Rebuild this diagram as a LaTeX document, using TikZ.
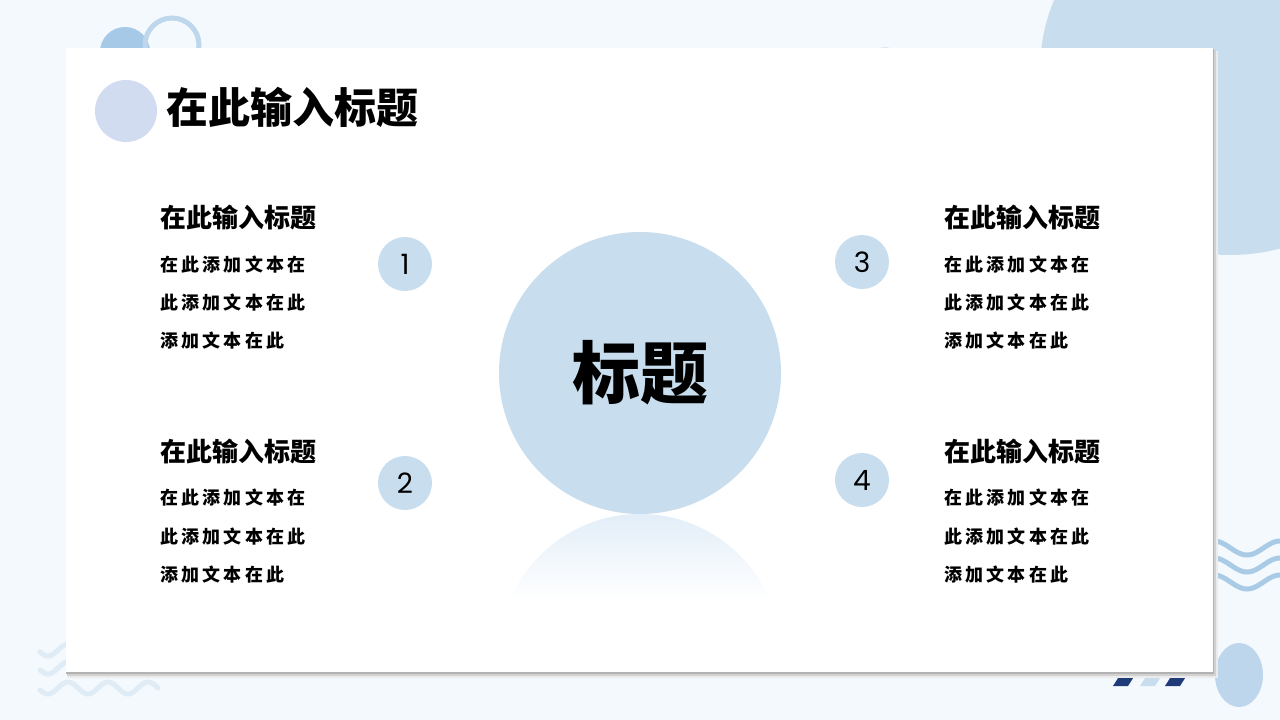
\documentclass[tikz,border=0pt]{standalone}
\usepackage{fontspec}
\newfontfamily\cjk{Noto Sans CJK SC}
\newfontfamily\cjkbody{Noto Sans CJK SC}[LetterSpace=18]
\newfontfamily\numfont{Poppins}
\usetikzlibrary{calc}
\definecolor{bg}{RGB}{244,249,254}
\definecolor{lb}{RGB}{200,222,238}
\definecolor{deco}{RGB}{165,201,230}
\definecolor{ring}{RGB}{190,215,236}
\definecolor{tcirc}{RGB}{210,220,240}
\definecolor{waveR}{RGB}{170,203,230}
\definecolor{waveL}{RGB}{224,236,245}
\definecolor{navy}{RGB}{31,60,120}
\definecolor{ell}{RGB}{190,214,236}
\definecolor{refl}{RGB}{226,238,248}
\tikzset{
  numcirc/.style={circle, fill=lb, minimum size=54pt, inner sep=0pt, font=\numfont\fontsize{28}{30}\selectfont},
  heading/.style={anchor=west, inner sep=0pt, font=\cjk\bfseries\fontsize{26}{28}\selectfont},
  bodytxt/.style={anchor=west, inner sep=0pt, font=\cjkbody\bfseries\fontsize{18}{20}\selectfont},
  wave/.style={line width=5pt, line cap=round}
}
\begin{document}
\begin{tikzpicture}[x=1pt,y=-1pt]
\useasboundingbox (0,0) rectangle (1280,720);
\fill[bg] (0,0) rectangle (1280,720);
% background decorations
\fill[lb] (1230,70) ellipse[x radius=190, y radius=185];
\fill[deco] (125,52) circle[radius=25];
\draw[ring, line width=5pt] (172,45) circle[radius=27];
\fill[lb!60] (885,62) circle[radius=15];
% stripes
\fill[navy] (1113,686) -- (1128,686) -- (1151,650) -- (1136,650) -- cycle;
\fill[lb] (1140,686) -- (1155,686) -- (1178,650) -- (1163,650) -- cycle;
\fill[navy] (1165,686) -- (1180,686) -- (1203,650) -- (1188,650) -- cycle;
\fill[ell] (1239,675) ellipse[x radius=24, y radius=32];
% right waves
\foreach \yy in {548,565,582}{
  \draw[wave, waveR] plot[domain=1200:1290, samples=60] (\x, {\yy + 7*cos((\x-1247)/66*360)});
}
% left waves
\foreach \yy in {650,668,688}{
  \draw[wave, waveL] plot[domain=40:158, samples=80] (\x, {\yy + 6*cos((\x-48)/40*360)});
}
% card shadow
\fill[black!8] (68,51) rectangle (1218,678);
\fill[black!18] (67,50) rectangle (1216,676);
\fill[black!30] (66,49) rectangle (1214,674);
\fill[white] (66,48) rectangle (1213,672);
% title
\fill[tcirc] (126,111) circle[radius=31];
\node[anchor=west, inner sep=0pt, font=\cjk\bfseries\fontsize{42}{46}\selectfont] (title) at (166,107) {在此输入标题};
% reflection
\begin{scope}
  \clip (640,655) circle[radius=141];
  \shade[top color=refl, bottom color=white] (480,514) rectangle (800,600);
\end{scope}
% central circle
\node[circle, fill=lb, minimum size=282pt, inner sep=0pt, font=\cjk\bfseries\fontsize{68}{72}\selectfont] (center) at (640,373) {标题};
% number circles
\node[numcirc] (n1) at (405,264) {1};
\node[numcirc] (n2) at (405,483) {2};
\node[numcirc] (n3) at (862,262) {3};
\node[numcirc] (n4) at (862,480) {4};
% left-top block
\node[heading] (h1) at (160,218) {在此输入标题};
\node[bodytxt] (b1a) at (160,265) {在此添加文本在};
\node[bodytxt] (b1b) at (160,303) {此添加文本在此};
\node[bodytxt] (b1c) at (160,341) {添加文本在此};
% left-bottom block
\node[heading] (h2) at (160,452) {在此输入标题};
\node[bodytxt] (b2a) at (160,498) {在此添加文本在};
\node[bodytxt] (b2b) at (160,537) {此添加文本在此};
\node[bodytxt] (b2c) at (160,575) {添加文本在此};
% right-top block
\node[heading] (h3) at (944,218) {在此输入标题};
\node[bodytxt] (b3a) at (944,265) {在此添加文本在};
\node[bodytxt] (b3b) at (944,303) {此添加文本在此};
\node[bodytxt] (b3c) at (944,341) {添加文本在此};
% right-bottom block
\node[heading] (h4) at (944,452) {在此输入标题};
\node[bodytxt] (b4a) at (944,498) {在此添加文本在};
\node[bodytxt] (b4b) at (944,537) {此添加文本在此};
\node[bodytxt] (b4c) at (944,575) {添加文本在此};
\end{tikzpicture}
\end{document}
